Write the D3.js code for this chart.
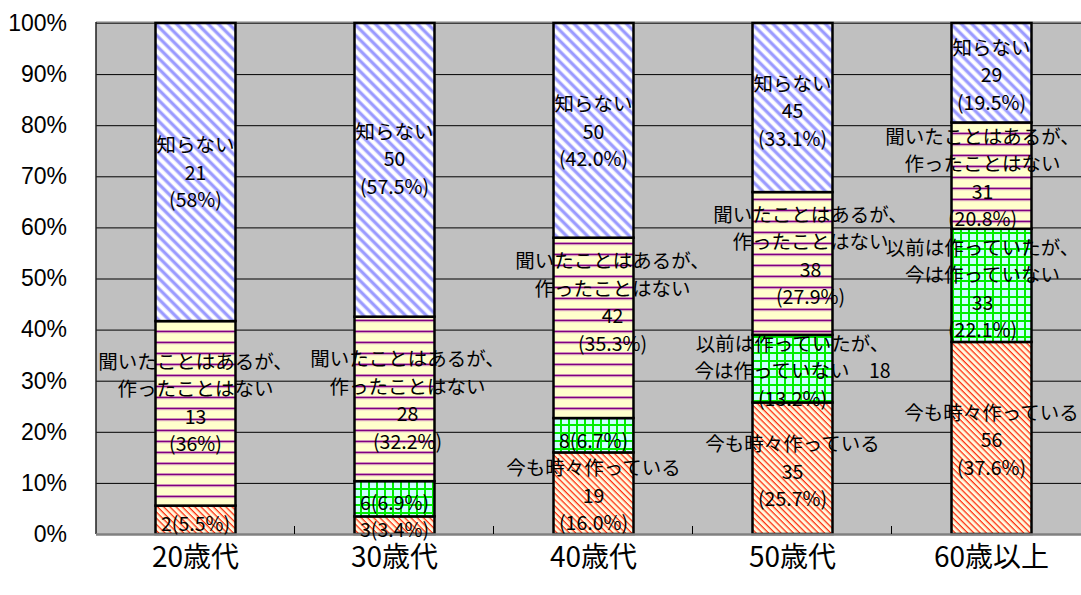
<!DOCTYPE html>
<html>
<head>
<meta charset="utf-8">
<script src="https://cdn.jsdelivr.net/npm/d3@7"></script>
<style>
  body { margin: 0; background: #fff; }
  svg { display: block; }
  .lbl { font-family: "Noto Sans CJK JP", sans-serif; font-size: 19.5px; fill: #000; }
  .yax text { font-family: "Liberation Sans", Arial, sans-serif; font-size: 23px; fill: #000; }
  .xax text { font-family: "Noto Sans CJK JP", sans-serif; font-size: 28px; fill: #000; }
</style>
</head>
<body>
<svg id="chart" width="1081" height="595"></svg>
<script>
/*globals d3*/

var categories = ["20歳代", "30歳代", "40歳代", "50歳代", "60歳以上"];
var seriesNames = [["今も時々作っている"], ["以前は作っていたが、", "今は作っていない"],
    ["聞いたことはあるが、", "作ったことはない"], ["知らない"]];
var nowMaking = [2, 3, 19, 35, 56];
var usedToMake = [0, 6, 8, 18, 33];
var heardOf = [13, 28, 42, 38, 31];
var dontKnow = [21, 50, 50, 45, 29];
var nowMakingPct = ["5.5", "3.4", "16.0", "25.7", "37.6"];
var usedToMakePct = ["", "6.9", "6.7", "13.2", "22.1"];
var heardOfPct = ["36", "32.2", "35.3", "27.9", "20.8"];
var dontKnowPct = ["58", "57.5", "42.0", "33.1", "19.5"];
var yTicks = [0, 0.1, 0.2, 0.3, 0.4, 0.5, 0.6, 0.7, 0.8, 0.9, 1];

// hand placed labels, like in the original sheet: [dx, dy, join count to 2nd line]
var labelNudge = [
    [[0, 3], null, [0, -12], [0, -1]],
    [[0, 3], [0, 3], [13, 0], [0, -12]],
    [[0, 1], [0, 4], [19, -27], [0, 0]],
    [[0, 2], [0, 1, true], [18, -9], [0, 2]],
    [[0, 1], [-9, 2], [-9, 1], [0, 1]]
];

(function () {
    "use strict";

    var svg = d3.select("#chart"),
        defs = svg.append("defs"),
        counts = [nowMaking, usedToMake, heardOf, dontKnow],
        pcts = [nowMakingPct, usedToMakePct, heardOfPct, dontKnowPct],
        left = 96,
        top = 23,
        bottom = 534,
        step = 199,
        plotW = step * categories.length,
        lineH = 27.5,
        rows,
        stack,
        x,
        y,
        p;

    rows = categories.map(function (c, i) {
        var r = {cat: c, i: i};
        counts.forEach(function (s, k) { r[k] = s[i]; });
        return r;
    });
    stack = d3.stack().keys([0, 1, 2, 3]).offset(d3.stackOffsetExpand)(rows);

    x = d3.scaleBand().domain(categories).range([left, left + plotW])
        .paddingInner(0.598).paddingOuter(0.299);
    y = d3.scaleLinear().domain([0, 1]).range([bottom, top]);

    // fill patterns
    p = defs.append("pattern").attr("id", "pat0").attr("patternUnits", "userSpaceOnUse")
        .attr("width", 8).attr("height", 4.4).attr("patternTransform", "rotate(45)");
    p.append("rect").attr("width", 8).attr("height", 4.4).attr("fill", "#fffbe2");
    p.append("rect").attr("y", 0).attr("width", 8).attr("height", 1.3).attr("fill", "#ff2a10");
    p.append("rect").attr("y", 1.3).attr("width", 8).attr("height", 0.6).attr("fill", "#ffb080");

    p = defs.append("pattern").attr("id", "pat1").attr("patternUnits", "userSpaceOnUse")
        .attr("width", 8).attr("height", 8);
    p.append("rect").attr("width", 8).attr("height", 8).attr("fill", "#ccffff");
    p.append("rect").attr("width", 2).attr("height", 8).attr("fill", "#00ee00");
    p.append("rect").attr("width", 8).attr("height", 2).attr("fill", "#00ee00");

    p = defs.append("pattern").attr("id", "pat2").attr("patternUnits", "userSpaceOnUse")
        .attr("width", 10).attr("height", 11);
    p.append("rect").attr("width", 10).attr("height", 11).attr("fill", "#ffffcc");
    p.append("rect").attr("y", 0).attr("width", 10).attr("height", 0.8).attr("fill", "#d8a0c0");
    p.append("rect").attr("y", 0.8).attr("width", 10).attr("height", 1.6).attr("fill", "#800080");
    p.append("rect").attr("y", 2.4).attr("width", 10).attr("height", 0.8).attr("fill", "#d8a0c0");

    p = defs.append("pattern").attr("id", "pat3").attr("patternUnits", "userSpaceOnUse")
        .attr("width", 10).attr("height", 7.4).attr("patternTransform", "rotate(45)");
    p.append("rect").attr("width", 10).attr("height", 7.4).attr("fill", "#ffffff");
    p.append("rect").attr("y", 1.5).attr("width", 10).attr("height", 3).attr("fill", "#9999ff");
    p.append("rect").attr("y", 1).attr("width", 10).attr("height", 0.5).attr("fill", "#c8c8ff");
    p.append("rect").attr("y", 4.5).attr("width", 10).attr("height", 0.5).attr("fill", "#c8c8ff");

    // plot area
    svg.append("rect").attr("x", left).attr("y", top)
        .attr("width", plotW).attr("height", bottom - top).attr("fill", "#c0c0c0");

    svg.append("g").attr("class", "grid")
        .attr("transform", "translate(" + left + ",0)")
        .call(d3.axisLeft(y).tickValues(yTicks).tickSize(-plotW).tickFormat(""))
        .call(function (g) {
            g.select(".domain").remove();
            g.selectAll("line").attr("stroke", "#000").attr("stroke-width", 1);
        });

    svg.append("line").attr("x1", left).attr("x2", left + plotW)
        .attr("y1", top - 0.5).attr("y2", top - 0.5)
        .attr("stroke", "#808080").attr("stroke-width", 2);
    svg.append("line").attr("x1", left).attr("x2", left)
        .attr("y1", top - 1).attr("y2", bottom)
        .attr("stroke", "#202020").attr("stroke-width", 1.5);

    svg.append("g").attr("class", "yax")
        .attr("transform", "translate(" + left + ",0)")
        .call(d3.axisLeft(y).tickValues(yTicks).tickSize(0).tickPadding(29)
            .tickFormat(d3.format(".0%")))
        .call(function (g) { g.select(".domain").remove(); });

    // bars
    svg.append("g").selectAll("g").data(stack).enter().append("g")
        .attr("fill", function (d) { return "url(#pat" + d.key + ")"; })
        .selectAll("rect").data(function (d) { return d.filter(function (v) { return v[1] > v[0]; }); })
        .enter().append("rect")
        .attr("x", function (d) { return x(d.data.cat); })
        .attr("y", function (d) { return y(d[1]); })
        .attr("width", x.bandwidth())
        .attr("height", function (d) { return y(d[0]) - y(d[1]); })
        .attr("stroke", "#000")
        .attr("stroke-width", 2.5);

    // x axis
    svg.append("line").attr("x1", left).attr("x2", left + plotW)
        .attr("y1", bottom + 0.5).attr("y2", bottom + 0.5)
        .attr("stroke", "#808080").attr("stroke-width", 2.5);
    svg.append("g").selectAll("line").data(categories.slice(1)).enter().append("line")
        .attr("x1", function (d) { return x(d) - x.step() * x.paddingInner() / 2 - 0.5; })
        .attr("x2", function (d) { return x(d) - x.step() * x.paddingInner() / 2 - 0.5; })
        .attr("y1", bottom - 8).attr("y2", bottom)
        .attr("stroke", "#000").attr("stroke-width", 1);

    svg.append("g").attr("class", "xax")
        .attr("transform", "translate(0," + bottom + ")")
        .call(d3.axisBottom(x).tickSize(0).tickPadding(0))
        .call(function (g) {
            g.select(".domain").remove();
            g.selectAll("text").attr("y", 23).attr("dy", "0.36em");
        });

    // data labels
    stack.forEach(function (layer) {
        var k = layer.key;
        layer.forEach(function (d) {
            var i = d.data.i,
                nudge = labelNudge[i][k],
                n = counts[k][i],
                lines,
                cx,
                cy;
            if (!nudge || n === 0) {
                return;
            }
            if (d[1] - d[0] < 0.1) {
                lines = [n + "(" + pcts[k][i] + "%)"];
            } else if (nudge[2]) {
                lines = [seriesNames[k][0], seriesNames[k][1] + "\u3000" + n, "(" + pcts[k][i] + "%)"];
            } else {
                lines = seriesNames[k].concat([String(n), "(" + pcts[k][i] + "%)"]);
            }
            cx = x(d.data.cat) + x.bandwidth() / 2 + nudge[0];
            cy = y((d[0] + d[1]) / 2) + nudge[1];
            svg.append("g").selectAll("text").data(lines).enter().append("text")
                .attr("class", "lbl")
                .attr("text-anchor", "middle")
                .attr("dominant-baseline", "central")
                .attr("x", cx)
                .attr("y", function (t, j) { return cy + (j - (lines.length - 1) / 2) * lineH; })
                .text(function (t) { return t; });
        });
    });
}());
</script>
</body>
</html>
